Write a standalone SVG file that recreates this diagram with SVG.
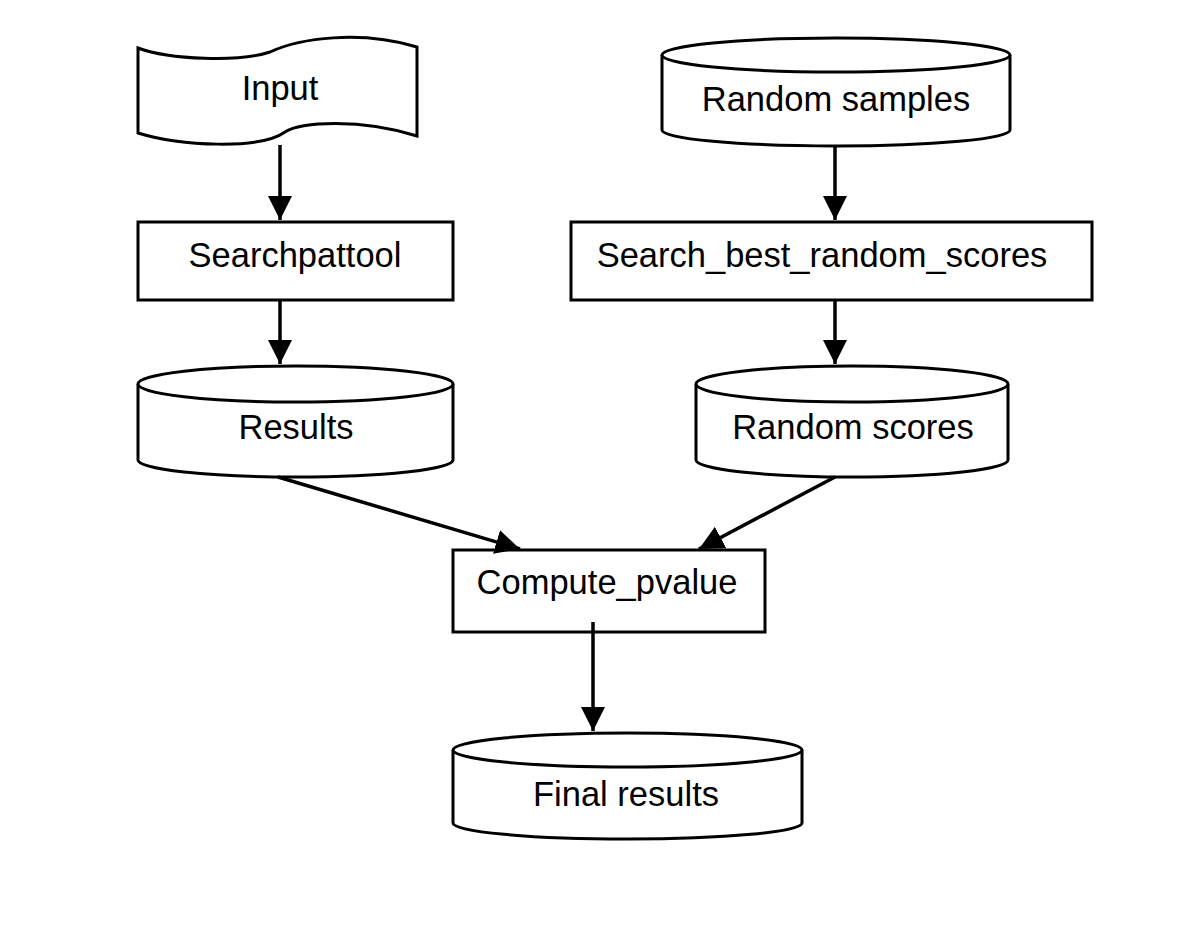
<svg xmlns="http://www.w3.org/2000/svg" width="1200" height="944" viewBox="0 0 1200 944">
<style>
.s{fill:#fff;stroke:#000;stroke-width:3}
.c{stroke:#000;stroke-width:3.5;fill:none}
.t{font-family:"Liberation Sans",Arial,sans-serif;font-size:34.5px;fill:#000;text-anchor:middle}
</style>
<defs>
<marker id="ah" markerWidth="8" markerHeight="9" refX="7" refY="4" orient="auto" markerUnits="strokeWidth">
<path d="M0,0.5 L7,4 L0,7.5 Z" fill="#000"/>
</marker>
</defs>
<rect width="1200" height="944" fill="#fff"/>
<g id="input">
<path class="s" d="M138,48 C170,60 240,62 270,52 C300,38 360,30 417,47 L417,136 C360,118 300,122 285,132 C260,150 180,146 138,133 Z"/>
<text class="t" x="280" y="100">Input</text>
</g>
<g id="searchpattool">
<rect class="s" x="138" y="222" width="315" height="78"/>
<text class="t" x="295" y="267">Searchpattool</text>
</g>
<g id="results">
<path class="s" d="M138,384 L138,460 A157.5,17 0 0 0 453,460 L453,384"/>
<ellipse class="s" cx="295.5" cy="384" rx="157.5" ry="18"/>
<text class="t" x="296" y="439">Results</text>
</g>
<g id="random-samples">
<path class="s" d="M662,55 L662,130 A174,16 0 0 0 1010,130 L1010,55"/>
<ellipse class="s" cx="836" cy="55" rx="174" ry="17"/>
<text class="t" x="836" y="111">Random samples</text>
</g>
<g id="search-best">
<rect class="s" x="571" y="222" width="521" height="78"/>
<text class="t" x="822" y="267">Search_best_random_scores</text>
</g>
<g id="random-scores">
<path class="s" d="M696,384 L696,460 A156,17 0 0 0 1008,460 L1008,384"/>
<ellipse class="s" cx="852" cy="384" rx="156" ry="18"/>
<text class="t" x="853" y="439">Random scores</text>
</g>
<g id="compute-pvalue">
<rect class="s" x="453" y="550" width="312" height="82"/>
<text class="t" x="607" y="594">Compute_pvalue</text>
</g>
<g id="final-results">
<path class="s" d="M453,750 L453,823 A174.5,16 0 0 0 802,823 L802,750"/>
<ellipse class="s" cx="627.5" cy="750" rx="174.5" ry="17"/>
<text class="t" x="626" y="806">Final results</text>
</g>
<g id="connectors">
<line class="c" x1="280" y1="145" x2="280" y2="220" marker-end="url(#ah)"/>
<line class="c" x1="280" y1="300" x2="280" y2="364" marker-end="url(#ah)"/>
<line class="c" x1="835" y1="146" x2="835" y2="220" marker-end="url(#ah)"/>
<line class="c" x1="835" y1="300" x2="835" y2="364" marker-end="url(#ah)"/>
<line class="c" x1="278" y1="477" x2="520" y2="549" marker-end="url(#ah)"/>
<line class="c" x1="835" y1="477" x2="699" y2="549" marker-end="url(#ah)"/>
<line class="c" x1="593" y1="622" x2="593" y2="731" marker-end="url(#ah)"/>
</g>
</svg>
